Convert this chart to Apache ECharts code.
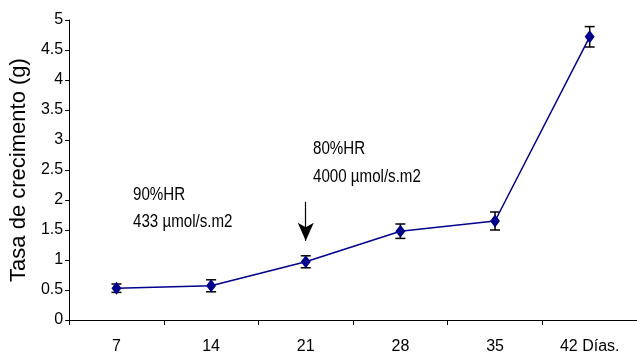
<!DOCTYPE html>
<html>
<head>
<meta charset="utf-8">
<script src="https://cdn.jsdelivr.net/npm/echarts@6/dist/echarts.min.js"></script>
<style>html,body{margin:0;padding:0;background:#fff}#c{width:637px;height:356px}</style>
</head>
<body>
<div id="c"></div>
<script>
var categories = ['7', '14', '21', '28', '35', '42 Días.'];
var growth = [0.53, 0.57, 0.97, 1.48, 1.65, 4.72];
var errors = [0.07, 0.10, 0.10, 0.12, 0.15, 0.17];
var arrowFrom = 1.97;
var arrowTo = 1.32;

var chart = echarts.init(document.getElementById('c'), null, {renderer: 'canvas'});
var font = '"Liberation Sans", Arial, sans-serif';
var errData = categories.map(function (c, i) { return [i, growth[i] - errors[i], growth[i] + errors[i]]; });

function note(txt, x, y) {
  return {type: 'text', x: x, y: y, scaleX: 0.84, style: {text: txt, fill: '#000', font: '18px ' + font, verticalAlign: 'middle'}};
}

chart.setOption({
  animation: false,
  backgroundColor: '#fff',
  grid: {left: 64, right: 0, top: 20, bottom: 36},
  xAxis: {
    type: 'category',
    data: categories,
    boundaryGap: true,
    axisLine: {lineStyle: {color: '#000', width: 1}},
    axisTick: {show: true, interval: 0, length: 5, lineStyle: {color: '#000'}},
    axisLabel: {color: '#000', fontSize: 16, fontFamily: font, margin: 19, interval: 0}
  },
  yAxis: {
    type: 'value',
    min: 0, max: 5, interval: 0.5,
    name: 'Tasa de crecimento (g)',
    nameLocation: 'middle',
    nameGap: 35,
    nameTextStyle: {color: '#000', fontSize: 22, fontFamily: font},
    axisLine: {show: true, lineStyle: {color: '#000', width: 1}},
    axisTick: {show: true, length: 4, lineStyle: {color: '#000'}},
    splitLine: {show: false},
    axisLabel: {color: '#000', fontSize: 16, fontFamily: font, margin: 6}
  },
  series: [
    {
      type: 'custom',
      data: errData,
      z: 3,
      renderItem: function (params, api) {
        var x = api.value(0);
        var lo = api.coord([x, api.value(1)]);
        var hi = api.coord([x, api.value(2)]);
        var hw = 5;
        var st = {stroke: '#000', lineWidth: 1.5};
        return {
          type: 'group',
          children: [
            {type: 'line', shape: {x1: lo[0], y1: lo[1], x2: hi[0], y2: hi[1]}, style: st},
            {type: 'line', shape: {x1: lo[0] - hw, y1: lo[1], x2: lo[0] + hw, y2: lo[1]}, style: st},
            {type: 'line', shape: {x1: hi[0] - hw, y1: hi[1], x2: hi[0] + hw, y2: hi[1]}, style: st}
          ]
        };
      }
    },
    {
      type: 'line',
      data: growth,
      z: 4,
      symbol: 'diamond',
      symbolSize: [10, 13],
      itemStyle: {color: '#00008B'},
      lineStyle: {color: '#00008B', width: 1.5},
      markLine: {
        silent: true,
        symbol: ['none', 'arrow'],
        symbolSize: [12, 18],
        label: {show: false},
        lineStyle: {color: '#000', width: 1.2, type: 'solid'},
        data: [[{coord: [categories[2], arrowFrom]}, {coord: [categories[2], arrowTo]}]]
      }
    }
  ],
  graphic: [
    note('90%HR', 133, 195),
    note('433 µmol/s.m2', 133, 222),
    note('80%HR', 313, 149),
    note('4000 µmol/s.m2', 313, 177)
  ]
});
</script>
</body>
</html>
